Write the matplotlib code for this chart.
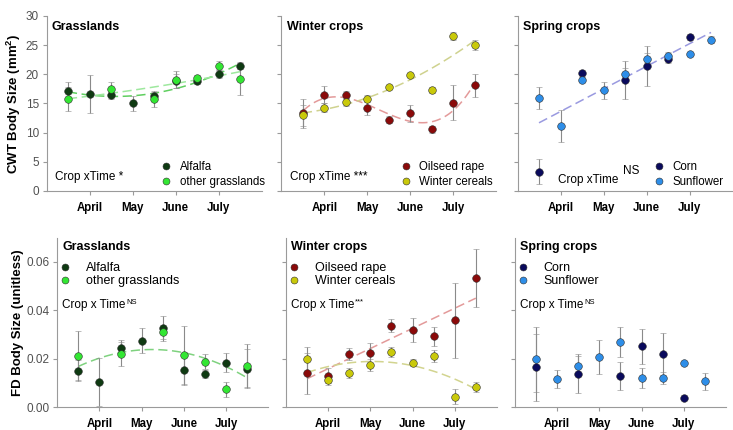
import numpy as np
import matplotlib
matplotlib.use("Agg")
import matplotlib.pyplot as plt
from matplotlib.lines import Line2D

plt.rcParams['font.family'] = ['Liberation Sans', 'DejaVu Sans']
plt.rcParams['mathtext.fontset'] = 'custom'
plt.rcParams['mathtext.rm'] = 'Liberation Sans'
plt.rcParams['mathtext.bf'] = 'Liberation Sans:bold'

nan = np.nan

# sampling dates (half-month steps, April = 1)
dates = [0.5, 1.0, 1.5, 2.0, 2.5, 3.0, 3.5, 4.0, 4.5]
month_pos = [1, 2, 3, 4]
month_labels = ["April", "May", "June", "July"]

# CWT body size (mm2)
alfalfa_cwt = [17.2, 16.6, 16.45, 15.0, 16.3, 18.9, 18.9, 20.1, 21.5]
alfalfa_cwt_err = [1.5, 3.3, 0.6, 1.3, 0.8, 1.2, 0.5, 0.7, 0.6]
othgrass_cwt = [15.8, nan, 17.5, nan, 15.7, 19.1, 19.3, 21.5, 19.2]
othgrass_cwt_err = [2.1, nan, 1.2, nan, 1.3, 1.5, 0.6, 0.7, 2.7]

rape_cwt = [13.3, 16.5, 16.5, 14.2, 12.2, 13.3, 10.6, 15.1, 18.1]
rape_cwt_err = [2.5, 1.5, 0.6, 1.2, 0.6, 1.5, 0.6, 3.0, 2.0]
cereal_cwt = [13.0, 14.3, 15.2, 15.8, 17.8, 19.9, 17.3, 26.6, 25.0]
cereal_cwt_err = [1.8, 0.8, 0.6, 0.6, 0.4, 0.3, 0.5, 0.7, 0.8]

corn_cwt = [3.3, nan, 20.3, nan, 19.0, 21.4, 22.7, 26.4, nan]
corn_cwt_err = [2.1, nan, 0.5, nan, 3.3, 3.4, 0.7, 0.5, nan]
sunfl_cwt = [16.0, 11.1, 19.1, 17.25, 20.0, 22.6, 23.1, 23.4, 25.9]
sunfl_cwt_err = [1.9, 2.7, 0.5, 1.5, 1.0, 1.0, 0.7, 0.3, 0.6]

# FD body size (unitless)
alfalfa_fd = [0.0151, 0.0104, 0.0246, 0.0275, 0.0325, 0.0152, 0.0137, 0.0184, 0.0159]
alfalfa_fd_err = [0.0045, 0.0098, 0.003, 0.005, 0.005, 0.006, 0.0015, 0.004, 0.008]
othgrass_fd = [0.0213, nan, 0.0218, nan, 0.0311, 0.0217, 0.0188, 0.0073, 0.0171]
othgrass_fd_err = [0.010, nan, 0.005, nan, 0.003, 0.012, 0.003, 0.003, 0.009]

rape_fd = [0.0140, 0.0130, 0.0219, 0.0224, 0.0337, 0.0318, 0.0292, 0.0358, 0.0534]
rape_fd_err = [0.0085, 0.003, 0.0025, 0.004, 0.0025, 0.005, 0.004, 0.0155, 0.012]
cereal_fd = [0.0199, 0.0112, 0.0140, 0.0173, 0.0228, 0.0184, 0.0210, 0.0043, 0.0084]
cereal_fd_err = [0.005, 0.002, 0.002, 0.0025, 0.002, 0.0015, 0.0025, 0.003, 0.002]

corn_fd = [0.0164, nan, 0.0138, nan, 0.0127, 0.0251, 0.0221, 0.0038, nan]
corn_fd_err = [0.014, nan, 0.0082, nan, 0.0058, 0.0073, 0.0087, 0.001, nan]
sunfl_fd = [0.0197, 0.0116, 0.0169, 0.0207, 0.0268, 0.0121, 0.0121, 0.0182, 0.0106]
sunfl_fd_err = [0.0135, 0.0037, 0.004, 0.0072, 0.0061, 0.0042, 0.0025, 0.0005, 0.0036]

C_ALF, C_OTH = '#0f3a12', '#33e633'
C_RAPE, C_CER = '#8a0a0a', '#c9c90a'
C_CORN, C_SUN = '#0a0a5c', '#2e8ee8'
ERR = '#8a8a8a'
SPINE = '#9a9a9a'

W, H = 733, 430
fig = plt.figure(figsize=(W / 100, H / 100), dpi=100)


def px_axes(x0, x1, ytop, ybot):
    return fig.add_axes([x0 / W, 1 - ybot / H, (x1 - x0) / W, (ybot - ytop) / H])


def style(ax, ylim, yticks, show_ylab):
    ax.set_xlim(0, 5)
    ax.set_ylim(*ylim)
    for s in ('top', 'right'):
        ax.spines[s].set_visible(False)
    for s in ('left', 'bottom'):
        ax.spines[s].set_color(SPINE)
        ax.spines[s].set_linewidth(0.8)
    ax.set_xticks(month_pos)
    ax.set_xticklabels(month_labels, fontsize=8.3, fontweight='bold')
    ax.set_yticks(yticks)
    ax.tick_params(colors=SPINE, length=3, width=0.8)
    ax.tick_params(axis='x', labelcolor='black', pad=5)
    ax.tick_params(axis='y', labelcolor='#505050', labelsize=8.5, pad=2.5)
    if not show_ylab:
        ax.set_yticklabels([])


def series(ax, y, err, color):
    ax.errorbar(dates, y, yerr=err, fmt='o', color=color, ms=5.5,
                mec='#303030', mew=0.4, ecolor=ERR, elinewidth=0.8,
                capsize=2, capthick=0.8, zorder=3)


def trend(ax, ys, deg, color):
    x = np.concatenate([np.array(dates)] * len(ys))
    y = np.concatenate([np.array(v, dtype=float) for v in ys])
    ok = ~np.isnan(y)
    coef = np.polyfit(x[ok], y[ok], deg)
    xs = np.linspace(0.5, 4.5, 100)
    ax.plot(xs, np.polyval(coef, xs), ls=(0, (6, 3)), color=color, lw=1.1, zorder=2)


def handles(colors):
    return [Line2D([], [], ls='none', marker='o', ms=5, color=c, mec='#303030', mew=0.4)
            for c in colors]


def crop_time(ax, x, y, base, sup, supsize, dx, dy):
    t = ax.text(x, y, base, transform=ax.transAxes, fontsize=8.5, va='center')
    ax.annotate(sup, xy=(1.0, 1.0), xycoords=t, xytext=(dx, dy), textcoords='offset points',
                fontsize=supsize, va='top', ha='left')


# ---------- top row: CWT ----------
top = [px_axes(46.5, 261.5, 16, 191), px_axes(281.4, 496.4, 16, 191), px_axes(517.5, 732.5, 16, 191)]
for i, ax in enumerate(top):
    style(ax, (0, 30), [0, 5, 10, 15, 20, 25, 30], i == 0)
top[0].set_ylabel("CWT Body Size (mm$^\\mathbf{2}$)", fontsize=9.5, fontweight='bold')
top[0].yaxis.set_label_coords(-0.11, 0.5)

ax = top[0]
trend(ax, [alfalfa_cwt], 2, '#5fcf5f')
trend(ax, [othgrass_cwt], 2, '#9ee89e')
series(ax, alfalfa_cwt, alfalfa_cwt_err, C_ALF)
series(ax, othgrass_cwt, othgrass_cwt_err, C_OTH)
ax.text(0.025, 0.935, "Grasslands", transform=ax.transAxes, fontsize=9, fontweight='bold', va='center')
ax.text(0.04, 0.08, "Crop xTime *", transform=ax.transAxes, fontsize=8.5, va='center')
ax.legend(handles([C_ALF, C_OTH]), ["Alfalfa", "other grasslands"], loc='lower left',
          bbox_to_anchor=(0.52, -0.01), frameon=False, fontsize=8.3, handlelength=0.6,
          handletextpad=0.9, labelspacing=0.25, borderaxespad=0)

ax = top[1]
trend(ax, [rape_cwt], 3, '#e39a9a')
trend(ax, [cereal_cwt], 2, '#cfd28f')
series(ax, rape_cwt, rape_cwt_err, C_RAPE)
series(ax, cereal_cwt, cereal_cwt_err, C_CER)
ax.text(0.025, 0.935, "Winter crops", transform=ax.transAxes, fontsize=9, fontweight='bold', va='center')
ax.text(0.04, 0.08, "Crop xTime ***", transform=ax.transAxes, fontsize=8.5, va='center')
ax.legend(handles([C_RAPE, C_CER]), ["Oilseed rape", "Winter cereals"], loc='lower left',
          bbox_to_anchor=(0.54, -0.01), frameon=False, fontsize=8.3, handlelength=0.6,
          handletextpad=0.9, labelspacing=0.25, borderaxespad=0)

ax = top[2]
trend(ax, [corn_cwt, sunfl_cwt], 1, '#9a9ae0')
series(ax, corn_cwt, corn_cwt_err, C_CORN)
series(ax, sunfl_cwt, sunfl_cwt_err, C_SUN)
ax.text(0.025, 0.935, "Spring crops", transform=ax.transAxes, fontsize=9, fontweight='bold', va='center')
crop_time(ax, 0.19, 0.06, "Crop xTime", "NS", 8.5, 3, 7)
ax.legend(handles([C_CORN, C_SUN]), ["Corn", "Sunflower"], loc='lower left',
          bbox_to_anchor=(0.62, -0.01), frameon=False, fontsize=8.3, handlelength=0.6,
          handletextpad=0.9, labelspacing=0.25, borderaxespad=0)

# ---------- bottom row: FD ----------
bot = [px_axes(57.2, 268.2, 237.8, 407), px_axes(285.9, 496.9, 237.8, 407), px_axes(514.9, 725.9, 237.8, 407)]
for i, ax in enumerate(bot):
    style(ax, (0, 0.07), [0, 0.02, 0.04, 0.06], i == 0)
    if i == 0:
        ax.set_yticklabels(["0.00", "0.02", "0.04", "0.06"])
bot[0].set_ylabel("FD Body Size (unitless)", fontsize=9.5, fontweight='bold')
bot[0].yaxis.set_label_coords(-0.155, 0.5)

panels = [
    (bot[0], "Grasslands", [(alfalfa_fd, alfalfa_fd_err, C_ALF, "Alfalfa"),
                            (othgrass_fd, othgrass_fd_err, C_OTH, "other grasslands")]),
    (bot[1], "Winter crops", [(rape_fd, rape_fd_err, C_RAPE, "Oilseed rape"),
                              (cereal_fd, cereal_fd_err, C_CER, "Winter cereals")]),
    (bot[2], "Spring crops", [(corn_fd, corn_fd_err, C_CORN, "Corn"),
                              (sunfl_fd, sunfl_fd_err, C_SUN, "Sunflower")]),
]
sig = ["NS", "***", "NS"]

trend(bot[0], [alfalfa_fd, othgrass_fd], 2, '#7fd27f')
trend(bot[1], [rape_fd], 1, '#e39a9a')
trend(bot[1], [cereal_fd], 2, '#d2d48f')

for (ax, title, ser), s in zip(panels, sig):
    for y, e, c, lab in ser:
        series(ax, y, e, c)
    ax.text(0.025, 0.945, title, transform=ax.transAxes, fontsize=9, fontweight='bold', va='center')
    ax.legend(handles([ser[0][2], ser[1][2]]), [ser[0][3], ser[1][3]], loc='upper left',
              bbox_to_anchor=(-0.005, 0.885), frameon=False, fontsize=9, handlelength=0.6,
              handletextpad=1.4, labelspacing=0.05, borderaxespad=0)
    crop_time(ax, 0.025, 0.6, "Crop x Time", s, 5.5, 0.3, 0.5)

fig.savefig("out.png", dpi=100)
